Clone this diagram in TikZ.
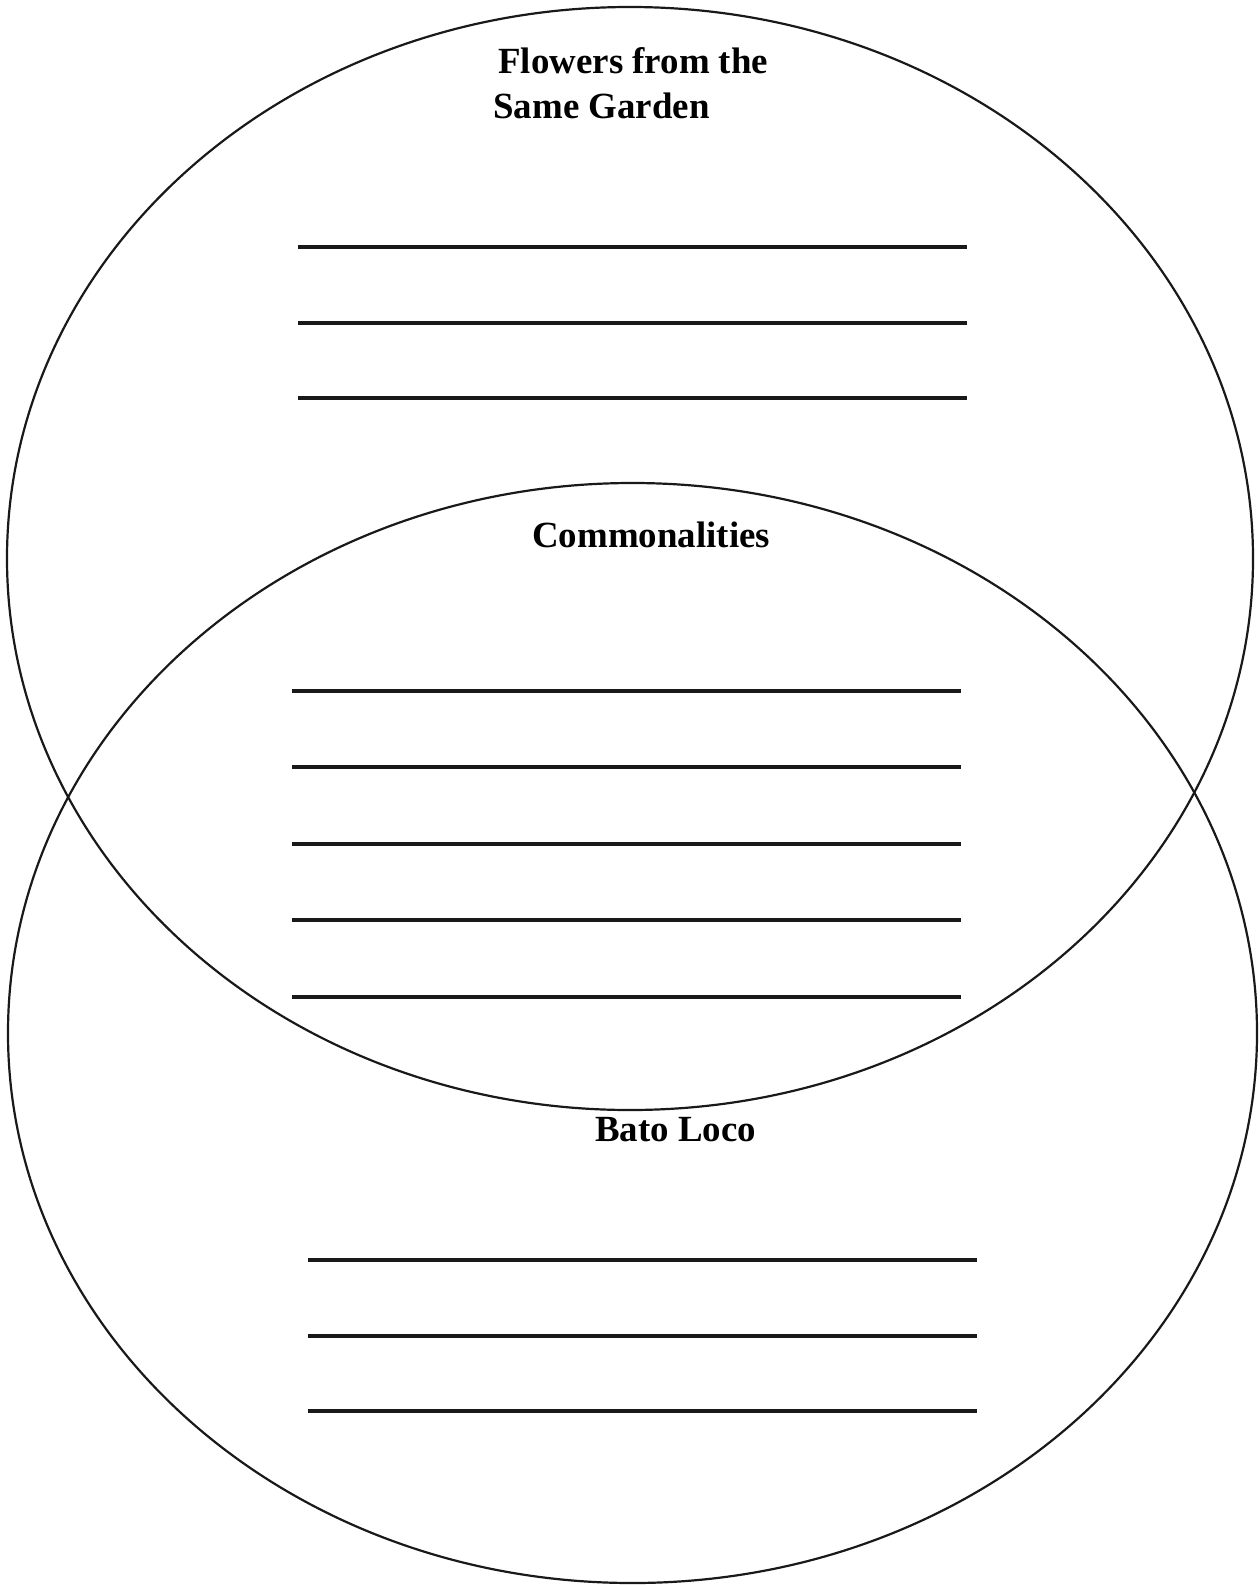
\documentclass[tikz,border=0pt]{standalone}
\usepackage{fontspec}
\setmainfont{Liberation Serif}
\usepackage{tikz}
\usetikzlibrary{positioning}

\begin{document}
\begin{tikzpicture}[
    x=0.02cm, y=-0.02cm,
    ring/.style = {draw=black!90, line width=1.25pt},
    writeline/.style = {draw=black!90, line width=1.8pt},
    heading/.style = {font=\fontsize{21}{25}\selectfont\bfseries, inner sep=0pt, anchor=base west}
]

% Page
\useasboundingbox (0,0) rectangle (1260,1585);

% Circles
\draw [ring] (630,558.5) ellipse [x radius=623, y radius=551.5];
\draw [ring] (632.5,1033) ellipse [x radius=624.5, y radius=550];

% Headings
\node (flowers) [heading] at (498,73) {Flowers from the};
\node (garden) [heading] at (493,118) {Same Garden};
\node (common) [heading] at (532,547) {Commonalities};
\node (bato) [heading] at (595,1141) {Bato Loco};

% Writing lines, top
\draw [writeline] (298,247) -- (967,247);
\draw [writeline] (298,323) -- (967,323);
\draw [writeline] (298,398) -- (967,398);

% Writing lines, middle
\draw [writeline] (292,691) -- (961,691);
\draw [writeline] (292,767) -- (961,767);
\draw [writeline] (292,844) -- (961,844);
\draw [writeline] (292,920) -- (961,920);
\draw [writeline] (292,997) -- (961,997);

% Writing lines, bottom
\draw [writeline] (308,1260) -- (977,1260);
\draw [writeline] (308,1336) -- (977,1336);
\draw [writeline] (308,1411) -- (977,1411);

\end{tikzpicture}
\end{document}
